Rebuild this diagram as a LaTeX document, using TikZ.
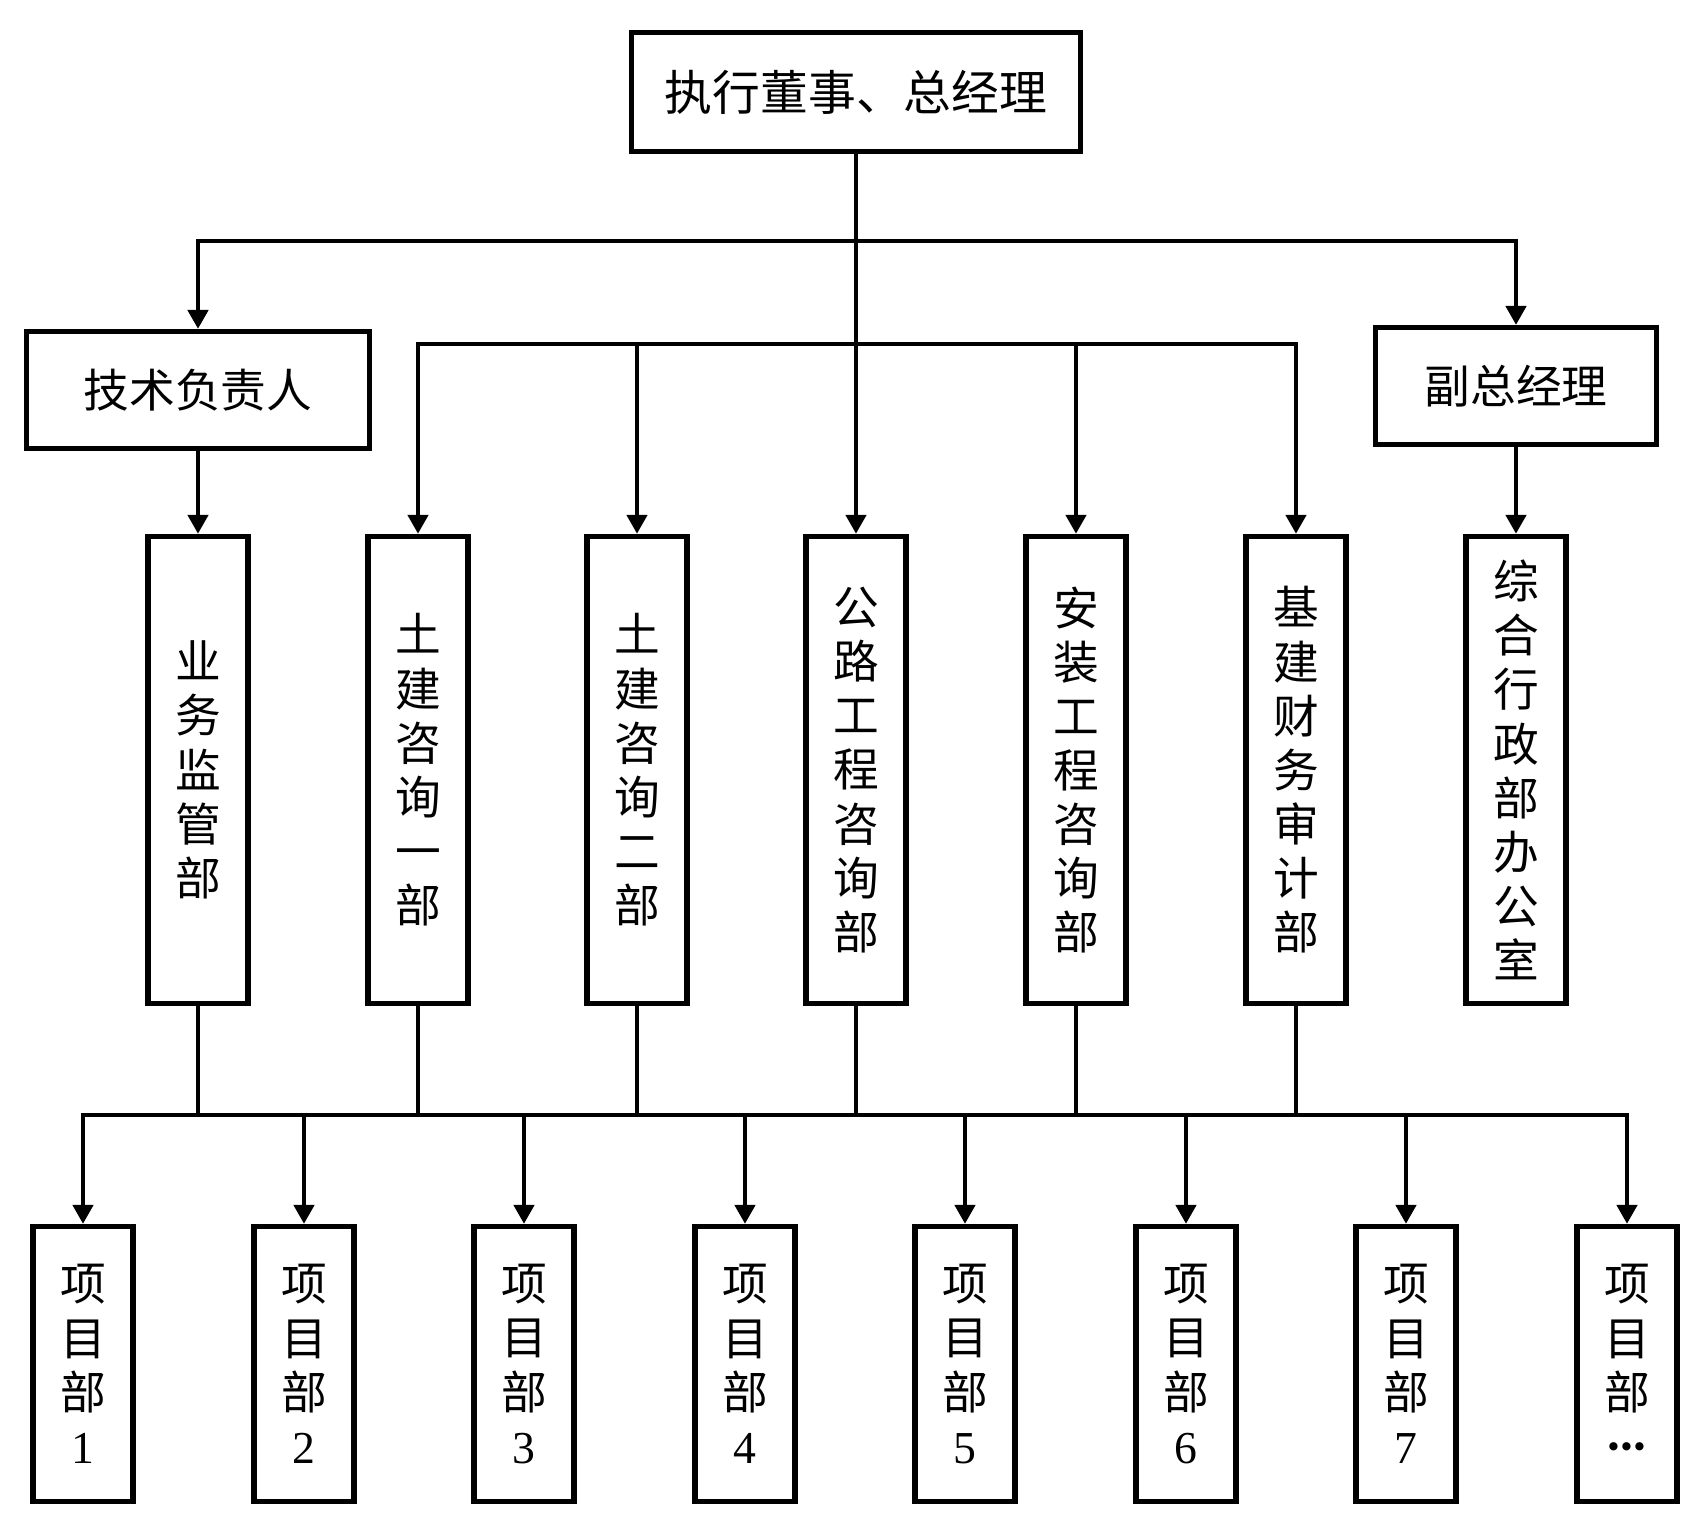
\documentclass[tikz,border=0pt]{standalone}
\usepackage{fontspec}
\setmainfont{Liberation Serif}
\newfontfamily\cjk{Noto Sans CJK SC}
\usetikzlibrary{arrows.meta}

\begin{document}
\begin{tikzpicture}[x=0.01cm,y=-0.01cm,
  box/.style={draw,line width=1.45pt,inner sep=0pt,align=center,
    font=\cjk\fontsize{13}{15.4}\selectfont},
  link/.style={line width=1.3pt},
  arr/.style={link,-{Triangle[length=0.19cm,width=0.2cm]}}]
  \useasboundingbox (0,0) rectangle (1708,1536);
  \node[box,minimum width=4.49cm,minimum height=1.19cm,
    font=\cjk\fontsize{13.6}{17}\selectfont] (top) at (856,92) {执行董事、总经理};
  \node[box,minimum width=3.43cm,minimum height=1.17cm] (tech) at (198,390) {技术负责人};
  \node[box,minimum width=2.8cm,minimum height=1.17cm] (vice) at (1516,386) {副总经理};
  \foreach \i/\x/\t in {1/198/{业\\务\\监\\管\\部},2/418/{土\\建\\咨\\询\\一\\部},
      3/637/{土\\建\\咨\\询\\二\\部},4/856/{公\\路\\工\\程\\咨\\询\\部},
      5/1076/{安\\装\\工\\程\\咨\\询\\部},6/1296/{基\\建\\财\\务\\审\\计\\部},
      7/1516/{综\\合\\行\\政\\部\\办\\公\\室}}
    \node[box,minimum width=1cm,minimum height=4.67cm] (m\i) at (\x,770) {\t};
  \foreach \i/\x/\n in {1/83/1,2/304/2,3/524/3,4/745/4,5/965/5,6/1186/6,7/1406/7,
      8/1627/{\bfseries\Large ·\kern-1pt·\kern-1pt·}}
    \node[box,minimum width=1cm,minimum height=2.75cm] (p\i) at (\x,1364) {项\\目\\部\\{\rmfamily\n}};
  \coordinate (hubA) at (856,241); \coordinate (hubB) at (856,344);
  \coordinate (hubC) at (856,1115);
  \draw[arr] (top) -- (m4);
  \draw[arr] (hubA) -| (tech.north);
  \draw[arr] (hubA) -| (vice.north);
  \foreach \i in {2,3,5,6}
    \draw[arr] (hubB) -| (m\i.north);
  \draw[arr] (tech) -- (m1);
  \draw[arr] (vice) -- (m7);
  \foreach \i in {1,...,6}
    \draw[link] (m\i.south) -- (m\i.south |- hubC);
  \foreach \i in {1,...,8}
    \draw[arr] (hubC) -| (p\i.north);
\end{tikzpicture}
\end{document}
